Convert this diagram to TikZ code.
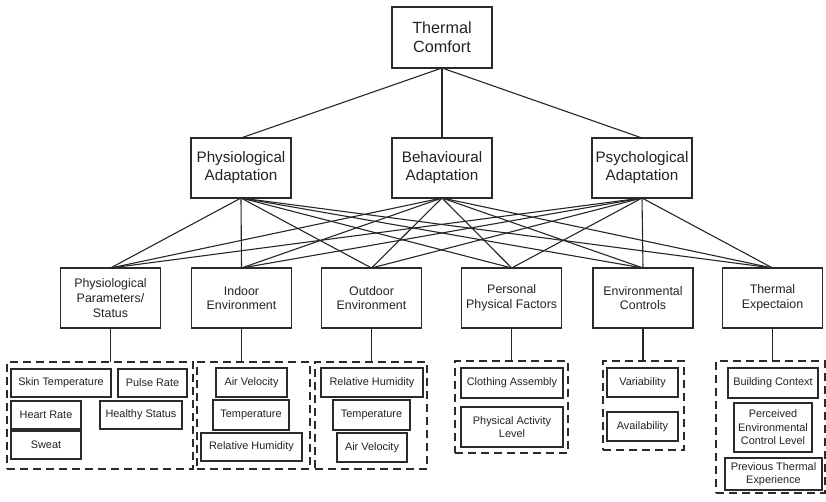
\documentclass[tikz,border=0pt]{standalone}
\usepackage{fontspec}
\setmainfont{Liberation Sans}
\definecolor{boxc}{HTML}{2A2A2A}
\definecolor{txt}{HTML}{222222}
\begin{document}
\begin{tikzpicture}[x=1pt,y=-1pt,
  box/.style={draw=boxc, line width=1.2pt, inner sep=0pt, outer sep=0pt, align=center, text=txt, minimum width=100pt, minimum height=60pt},
  topbox/.style={box, minimum height=61pt, font=\fontsize{16.2}{19}\selectfont},
  midbox/.style={box, font=\fontsize{15.2}{18}\selectfont},
  botbox/.style={box, font=\fontsize{12.4}{14.8}\selectfont},
  item/.style={draw=boxc, line width=1.6pt, inner sep=0pt, outer sep=0pt, align=center, text=txt, font=\fontsize{10.9}{13.5}\selectfont},
  grp/.style={draw=boxc, line width=1.3pt, dash pattern=on 8pt off 5pt, inner sep=0pt, outer sep=0pt},
  conn/.style={draw=black!85, line width=1.1pt}]
\useasboundingbox (0,0) rectangle (826,502);
% top
\node[topbox] (tc) at (442,37.5) {Thermal\\Comfort};
% middle
\node[midbox] (pa) at (241,168) {Physiological\\Adaptation};
\node[midbox] (ba) at (442,168) {Behavioural\\Adaptation};
\node[midbox] (sa) at (642,168) {Psychological\\Adaptation};
% bottom
\node[botbox] (b1) at (110.5,298) {Physiological\\Parameters/\\Status};
\node[botbox] (b2) at (241.5,298) {Indoor\\Environment};
\node[botbox] (b3) at (371.5,298) {Outdoor\\Environment};
\node[botbox] (b4) at (511.7,298) {Personal\\Physical Factors};
\node[botbox] (b5) at (643,298) {Environmental\\Controls};
\node[botbox] (b6) at (772.5,298) {Thermal\\Expectaion};
% connectors
\foreach \m in {pa,ba,sa} \draw[conn] (tc.south) -- (\m.north);
\foreach \m in {pa,ba,sa}
  \foreach \b in {b1,b2,b3,b4,b5,b6}
    \draw[conn] (\m.south) -- (\b.north);
% groups
\node[grp, minimum width=186pt, minimum height=107pt] (g1) at (100,415.5) {};
\node[grp, minimum width=113pt, minimum height=107pt] (g2) at (253.5,415.5) {};
\node[grp, minimum width=112pt, minimum height=107pt] (g3) at (371,415.5) {};
\node[grp, minimum width=113pt, minimum height=92pt] (g4) at (511.5,407) {};
\node[grp, minimum width=81pt, minimum height=89pt] (g5) at (643.5,405.5) {};
\node[grp, minimum width=109pt, minimum height=132pt] (g6) at (770.5,427) {};
\foreach \b/\g in {b1/g1,b2/g2,b3/g3,b4/g4,b5/g5,b6/g6}
  \draw[conn] (\b.south) -- (\b.south |- \g.north);
% group 1 items
\node[item, minimum width=100pt, minimum height=28pt] (i11) at (61,383) {Skin Temperature};
\node[item, minimum width=69pt, minimum height=28pt] (i12) at (152.5,383) {Pulse Rate};
\node[item, minimum width=70pt, minimum height=28pt] (i13) at (46,415) {Heart Rate};
\node[item, minimum width=82pt, minimum height=28pt] (i14) at (141,415) {Healthy Status};
\node[item, minimum width=70pt, minimum height=28pt] (i15) at (46,445) {Sweat};
% group 2 items
\node[item, minimum width=71pt, minimum height=29pt] (i21) at (251.5,382.5) {Air Velocity};
\node[item, minimum width=76pt, minimum height=30pt] (i22) at (251,415) {Temperature};
\node[item, minimum width=101pt, minimum height=28pt] (i23) at (251.5,447) {Relative Humidity};
% group 3 items
\node[item, minimum width=102pt, minimum height=29pt] (i31) at (372,382.5) {Relative Humidity};
\node[item, minimum width=77pt, minimum height=30pt] (i32) at (371.5,415) {Temperature};
\node[item, minimum width=70pt, minimum height=29pt] (i33) at (372,447.5) {Air Velocity};
% group 4 items
\node[item, minimum width=102pt, minimum height=30pt] (i41) at (512,383) {Clothing Assembly};
\node[item, minimum width=102pt, minimum height=40pt] (i42) at (512,427) {Physical Activity\\Level};
% group 5 items
\node[item, minimum width=71pt, minimum height=29pt] (i51) at (642.5,382.5) {Variability};
\node[item, minimum width=71pt, minimum height=29pt] (i52) at (642.5,426.5) {Availability};
% group 6 items
\node[item, minimum width=90pt, minimum height=30pt] (i61) at (773,383) {Building Context};
\node[item, minimum width=78pt, minimum height=49pt] (i62) at (773,427.5) {Perceived\\Environmental\\Control Level};
\node[item, minimum width=97pt, minimum height=32pt] (i63) at (773.5,474) {Previous Thermal\\Experience};
\end{tikzpicture}
\end{document}
